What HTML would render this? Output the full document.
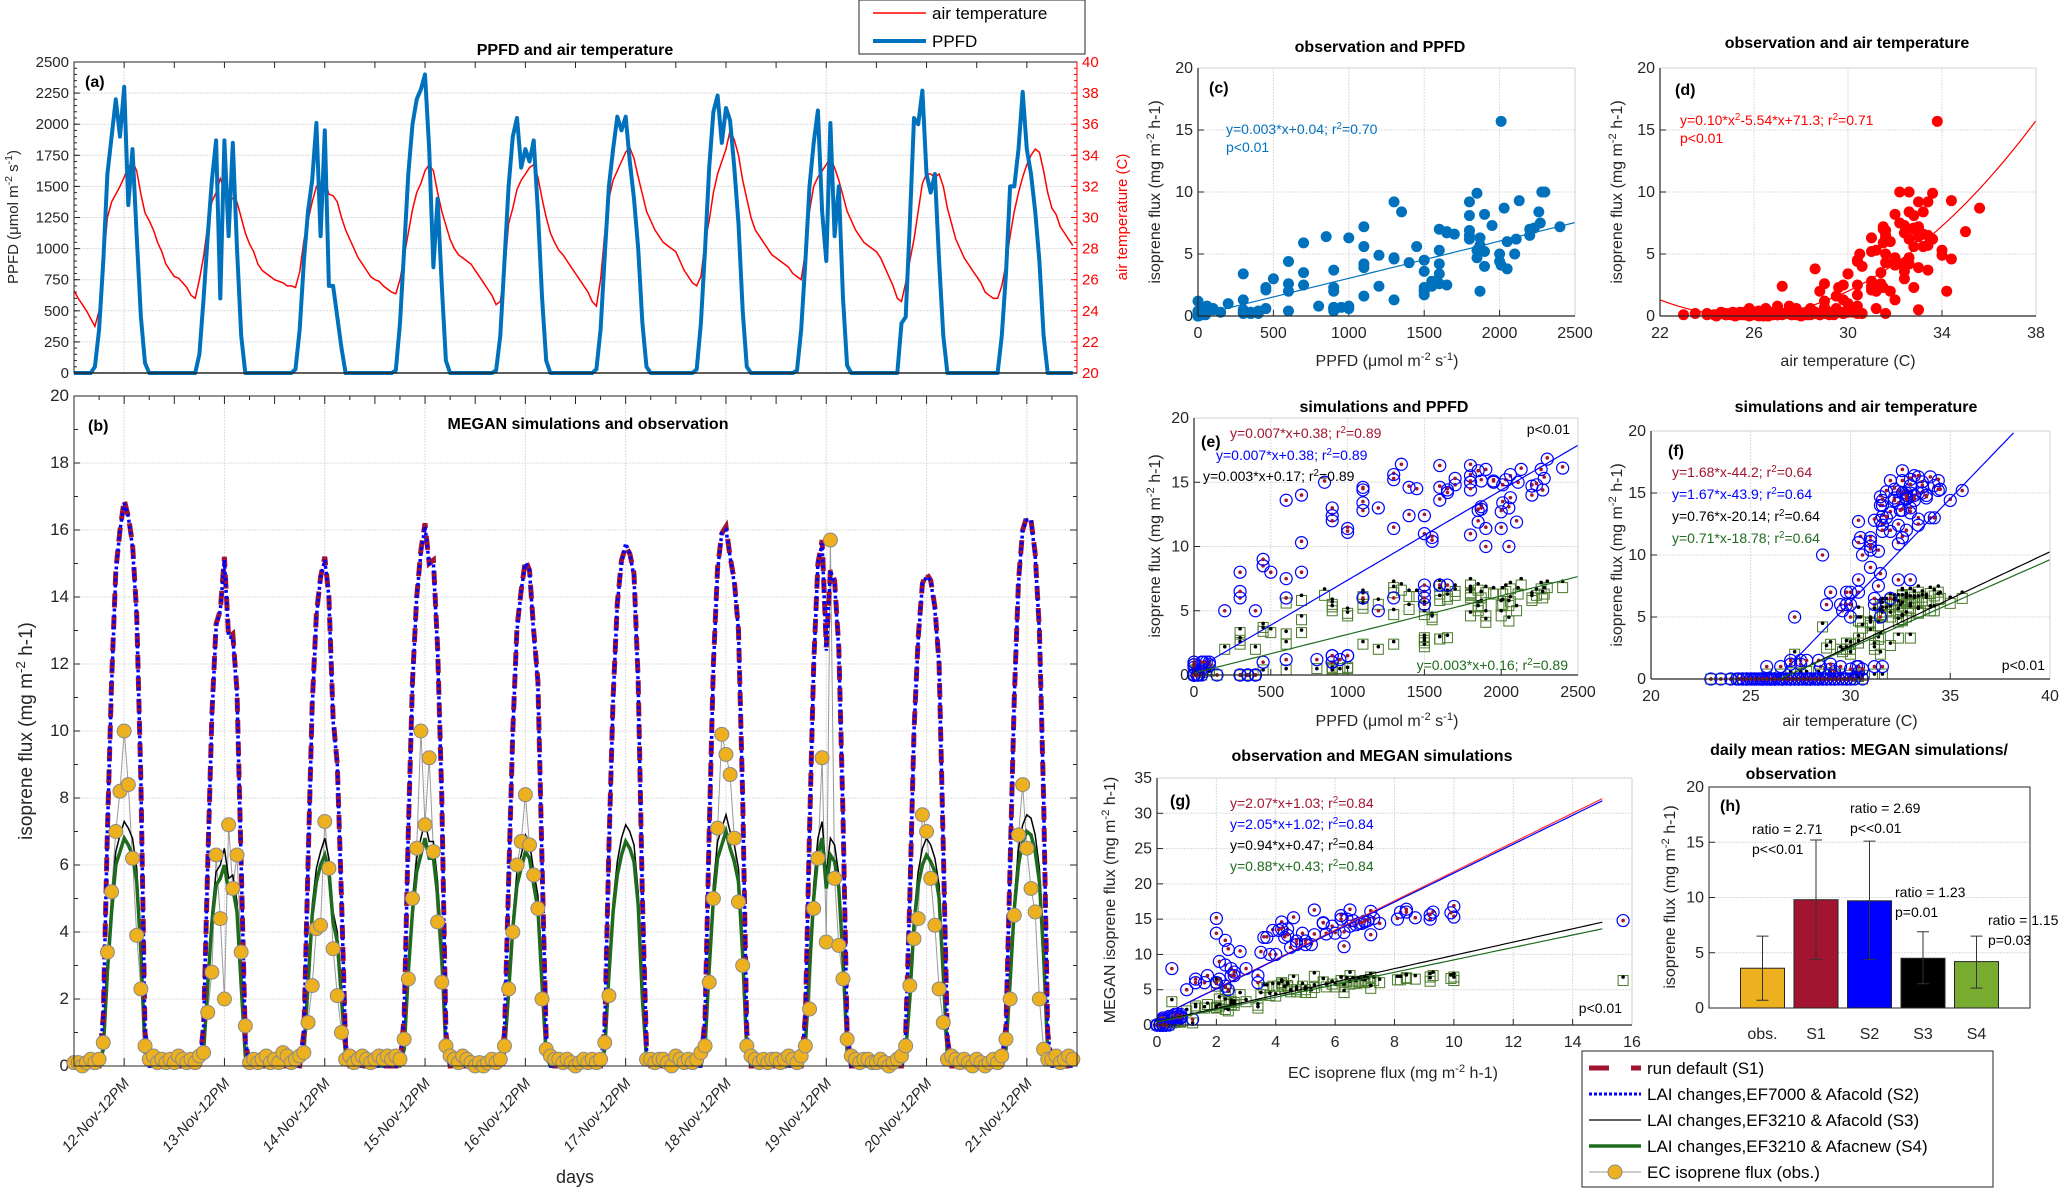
<!DOCTYPE html>
<html><head><meta charset="utf-8">
<style>
html,body{margin:0;padding:0;background:#fff;}
svg{display:block;font-family:"Liberation Sans",sans-serif;}
</style></head>
<body>
<svg id="fig" width="2067" height="1193" viewBox="0 0 2067 1193" xmlns="http://www.w3.org/2000/svg"></svg>
<script>
// ===== Time-series data (hourly, 10 days starting 12-Nov 00:00) =====
const dayLabels = ["12-Nov-12PM","13-Nov-12PM","14-Nov-12PM","15-Nov-12PM","16-Nov-12PM","17-Nov-12PM","18-Nov-12PM","19-Nov-12PM","20-Nov-12PM","21-Nov-12PM"];
const ppfdDays = [
[0,0,0,0,0,50,350,900,1600,1900,2200,1900,2300,1350,1800,1100,450,80,0,0,0,0,0,0],
[0,0,0,0,0,0,150,600,1100,1550,1870,600,1870,1100,1850,1000,300,0,0,0,0,0,0,0],
[0,0,0,0,0,30,350,900,1300,1550,2010,1100,1950,700,700,450,200,0,0,0,0,0,0,0],
[0,0,0,0,0,20,400,1000,1600,2000,2200,2280,2400,1800,850,1400,700,100,0,0,0,0,0,0],
[0,0,0,0,0,20,300,900,1500,1900,2050,1650,1800,1700,1870,1300,600,100,0,0,0,0,0,0],
[0,0,0,0,0,30,350,950,1500,1800,2060,1950,2060,1700,1400,1000,400,50,0,0,0,0,0,0],
[0,0,0,0,0,30,400,1000,1650,2100,2230,1850,2130,2030,1650,1200,500,50,0,0,0,0,0,0],
[0,0,0,0,0,20,350,900,1500,1850,2110,1300,900,2010,1100,1500,600,60,0,0,0,0,0,0],
[0,0,0,0,0,0,400,450,1200,2050,2000,2270,1600,1450,1600,900,300,0,0,0,0,0,0,0],
[0,0,0,0,0,0,300,800,1500,1500,1800,2260,1800,1600,1300,900,300,0,0,0,0,0,0,0]];
const tempDays = [
[25.3,24.8,24.4,24.0,23.5,23.0,24.0,27.0,30.0,31.0,31.5,32.0,32.6,33.2,33.6,33.0,31.5,30.3,29.8,29.2,28.4,27.8,27.0,26.6],
[26.2,26.1,25.8,25.5,25.0,24.8,26.0,27.5,29.5,31.0,31.6,32.5,31.8,31.5,31.2,31.0,30.0,29.0,28.3,27.8,27.0,26.6,26.4,26.2],
[26.0,25.9,25.8,25.6,25.6,25.5,26.5,28.5,29.8,31.0,32.0,32.2,32.4,31.5,31.4,31.0,30.0,29.2,28.6,28.0,27.4,27.0,26.6,26.2],
[26.0,25.9,25.6,25.4,25.2,25.1,26.0,27.5,29.0,30.5,31.6,32.2,33.0,33.4,33.0,31.6,30.4,29.5,28.6,28.0,27.6,27.4,27.2,27.0],
[26.6,26.2,25.8,25.4,25.0,24.4,24.6,26.5,29.6,30.6,31.8,32.4,32.8,33.2,33.4,32.6,31.2,30.0,29.0,28.4,27.9,27.6,27.2,26.8],
[26.4,26.0,25.6,25.2,24.6,24.3,26.0,29.0,31.2,32.4,33.0,33.6,34.2,34.5,33.8,32.6,31.5,30.4,29.8,29.2,28.8,28.4,28.2,28.0],
[27.8,27.2,26.6,26.2,25.8,25.6,26.2,28.4,29.8,31.6,32.8,33.6,34.4,35.6,35.0,34.0,32.4,31.2,30.0,29.2,28.8,28.4,28.0,27.6],
[27.4,27.2,27.0,26.8,26.4,26.2,26.0,27.8,30.4,32.0,32.6,33.0,33.4,33.8,33.2,32.4,31.4,30.4,29.8,29.2,28.8,28.4,28.2,28.0],
[27.8,27.4,26.8,26.2,25.6,24.8,24.6,25.8,27.2,28.6,30.4,32.2,32.8,32.8,32.6,32.8,32.0,30.6,29.6,28.6,28.0,27.4,27.0,26.6],
[26.2,25.8,25.2,25.0,24.8,24.8,25.6,27.0,28.8,30.4,31.6,32.6,33.4,34.0,34.4,34.2,33.0,31.6,30.6,30.2,29.4,29.0,28.6,28.2]];
const s1Days = [
[0,0,0,0,0,0,0,1.5,7,11.5,14.8,16.0,16.9,16.4,15.6,13.5,8.5,1.0,0,0,0,0,0,0],
[0,0,0,0,0,0,0,1.2,6,10.5,13.2,13.6,15.2,12.8,12.9,11.2,6,0.8,0,0,0,0,0,0],
[0,0,0,0,0,0,0,1.0,6,10.8,13.5,14.6,15.2,14.0,10.4,9.0,5,0.6,0,0,0,0,0,0],
[0,0,0,0,0,0,0,1.5,7,11.5,14.0,15.4,16.2,15.0,15.1,12.5,8,1.0,0,0,0,0,0,0],
[0,0,0,0,0,0,0,1.0,5.5,10,13.1,14.2,15.1,14.8,13.0,11.5,6,0.8,0,0,0,0,0,0],
[0,0,0,0,0,0,0,1.2,6.5,11.0,13.8,15.1,15.5,15.3,14.7,11.5,5,0.5,0,0,0,0,0,0],
[0,0,0,0,0,0,0,1.5,7,12,14.9,15.9,16.1,15.2,14.5,13.0,8,1.0,0,0,0,0,0,0],
[0,0,0,0,0,0,0,1.5,7,12,15.0,15.7,12.5,14.8,14.5,12.5,7.5,1.0,0,0,0,0,0,0],
[0,0,0,0,0,0,0,1.0,5,10,12.8,14.4,14.7,14.5,13.7,12.0,6.5,0.8,0,0,0,0,0,0],
[0,0,0,0,0,0,0,1.2,6,11,14.5,16.0,16.4,16.3,15.3,13.0,8,1.0,0,0,0,0,0,0]];
const s2Days = [
[0,0,0,0,0,0,0,1.5,7,11.4,14.7,16.0,16.8,16.4,15.5,13.4,8.5,1.0,0,0,0,0,0,0],
[0,0,0,0,0,0,0,1.2,6,10.4,13.1,13.6,15.1,12.8,12.8,11.1,6,0.8,0,0,0,0,0,0],
[0,0,0,0,0,0,0,1.0,6,10.7,13.4,14.6,15.1,14.0,10.3,9.0,5,0.6,0,0,0,0,0,0],
[0,0,0,0,0,0,0,1.5,7,11.4,14.0,15.3,16.1,15.0,15.0,12.4,8,1.0,0,0,0,0,0,0],
[0,0,0,0,0,0,0,1.0,5.5,10,13.0,14.2,15.0,14.8,12.9,11.4,6,0.8,0,0,0,0,0,0],
[0,0,0,0,0,0,0,1.2,6.5,10.9,13.8,15.0,15.6,15.3,14.6,11.4,5,0.5,0,0,0,0,0,0],
[0,0,0,0,0,0,0,1.5,7,11.9,14.8,15.9,16.0,15.2,14.4,13.0,8,1.0,0,0,0,0,0,0],
[0,0,0,0,0,0,0,1.5,7,11.9,15.0,15.6,12.4,14.8,14.4,12.4,7.5,1.0,0,0,0,0,0,0],
[0,0,0,0,0,0,0,1.0,5,10,12.7,14.4,14.6,14.5,13.6,12.0,6.5,0.8,0,0,0,0,0,0],
[0,0,0,0,0,0,0,1.2,6,11,14.4,16.0,16.3,16.3,15.2,13.0,8,1.0,0,0,0,0,0,0]];
const s3Days = [
[0,0,0,0,0,0,0,0.6,3.0,5.0,6.4,6.9,7.3,7.1,6.8,5.9,3.7,0.4,0,0,0,0,0,0],
[0,0,0,0,0,0,0,0.5,2.6,4.6,5.8,6.0,6.5,5.6,5.7,4.9,2.6,0.3,0,0,0,0,0,0],
[0,0,0,0,0,0,0,0.4,2.6,4.8,5.9,6.4,6.8,6.2,4.6,4.0,2.2,0.3,0,0,0,0,0,0],
[0,0,0,0,0,0,0,0.6,3.0,5.0,6.2,6.8,7.3,6.7,6.7,5.5,3.5,0.4,0,0,0,0,0,0],
[0,0,0,0,0,0,0,0.4,2.4,4.4,5.8,6.3,6.9,6.7,5.8,5.1,2.6,0.3,0,0,0,0,0,0],
[0,0,0,0,0,0,0,0.5,2.9,4.9,6.1,6.8,7.2,7.0,6.6,5.2,2.2,0.2,0,0,0,0,0,0],
[0,0,0,0,0,0,0,0.6,3.1,5.4,6.7,7.1,7.5,7.0,6.6,5.9,3.6,0.4,0,0,0,0,0,0],
[0,0,0,0,0,0,0,0.6,3.1,5.4,6.8,7.3,5.7,6.8,6.6,5.7,3.4,0.4,0,0,0,0,0,0],
[0,0,0,0,0,0,0,0.4,2.2,4.5,5.8,6.5,6.8,6.6,6.2,5.4,2.9,0.3,0,0,0,0,0,0],
[0,0,0,0,0,0,0,0.5,2.7,5.0,6.5,7.2,7.5,7.4,6.9,5.9,3.6,0.4,0,0,0,0,0,0]];
const s4Days = [
[0,0,0,0,0,0,0,0.5,2.8,4.6,6.0,6.4,6.8,6.6,6.3,5.5,3.4,0.4,0,0,0,0,0,0],
[0,0,0,0,0,0,0,0.4,2.4,4.3,5.4,5.6,6.0,5.2,5.3,4.6,2.4,0.3,0,0,0,0,0,0],
[0,0,0,0,0,0,0,0.4,2.4,4.5,5.5,6.0,6.3,5.8,4.3,3.7,2.0,0.3,0,0,0,0,0,0],
[0,0,0,0,0,0,0,0.5,2.8,4.6,5.8,6.3,6.8,6.2,6.2,5.1,3.3,0.4,0,0,0,0,0,0],
[0,0,0,0,0,0,0,0.4,2.2,4.1,5.4,5.9,6.4,6.2,5.4,4.7,2.4,0.3,0,0,0,0,0,0],
[0,0,0,0,0,0,0,0.5,2.7,4.6,5.7,6.3,6.7,6.5,6.1,4.8,2.0,0.2,0,0,0,0,0,0],
[0,0,0,0,0,0,0,0.6,2.9,5.0,6.2,6.6,7.0,6.5,6.1,5.5,3.3,0.4,0,0,0,0,0,0],
[0,0,0,0,0,0,0,0.6,2.9,5.0,6.3,6.8,5.3,6.3,6.1,5.3,3.2,0.4,0,0,0,0,0,0],
[0,0,0,0,0,0,0,0.4,2.0,4.2,5.4,6.0,6.3,6.1,5.8,5.0,2.7,0.3,0,0,0,0,0,0],
[0,0,0,0,0,0,0,0.5,2.5,4.7,6.0,6.7,7.0,6.9,6.4,5.5,3.3,0.4,0,0,0,0,0,0]];
const obsDays = [
[0.1,0.1,0.0,0.1,0.2,0.1,0.2,0.7,3.4,5.2,7.0,8.2,10.0,8.4,6.2,3.9,2.3,0.6,0.2,0.3,0.1,0.2,0.1,0.2],
[0.1,0.3,0.2,0.1,0.2,0.1,0.3,0.4,1.6,2.8,6.3,4.4,2.0,7.2,5.3,6.3,3.4,1.2,0.1,0.2,0.1,0.2,0.3,0.1],
[0.2,0.1,0.4,0.3,0.1,0.2,0.3,0.4,1.3,2.4,4.1,4.2,7.3,5.9,3.5,2.1,1.0,0.2,0.3,0.1,0.2,0.3,0.2,0.1],
[0.2,0.3,0.2,0.3,0.2,0.3,0.2,0.8,2.6,5.0,6.5,10.0,7.2,9.2,6.4,4.3,2.5,0.6,0.3,0.2,0.1,0.3,0.2,0.1],
[0.0,0.1,0.0,0.1,0.2,0.1,0.2,0.6,2.3,4.0,6.0,6.7,8.1,6.6,5.7,4.7,2.0,0.5,0.3,0.2,0.2,0.1,0.2,0.1],
[0.0,0.1,0.2,0.1,0.2,0.1,0.2,0.7,2.1,null,null,null,null,null,null,null,null,0.2,0.2,0.1,0.2,0.2,0.1,0.0],
[0.3,0.2,0.1,0.2,0.1,0.2,0.4,0.6,2.5,5.0,7.1,9.9,9.3,8.7,6.8,4.9,3.0,0.6,0.3,0.2,0.1,0.2,0.1,0.2],
[0.2,0.1,0.2,0.3,0.2,0.1,0.3,0.6,1.7,4.7,6.2,9.2,3.7,15.7,5.6,3.6,2.6,0.8,0.3,0.2,0.1,0.2,0.2,0.1],
[0.1,0.2,0.1,0.0,0.1,0.2,0.3,0.6,2.4,3.8,4.4,7.5,7.0,5.6,4.2,2.3,1.3,0.2,0.3,0.2,0.1,0.2,0.1,0.0],
[0.2,0.1,0.0,0.1,0.2,0.1,0.3,0.8,2.0,4.5,6.9,8.4,6.5,5.3,4.6,2.0,0.5,0.2,0.2,0.3,0.1,0.2,0.3,0.2]];

// ===== Regression / summary data =====
const fitC = [0.003, 0.04];
const fitD = [0.102, 25.57];
const fitE_S1 = [0.007, 0.38];
const fitE_S4 = [0.003, 0.16];
const fitF = [[1.67,-43.9],[0.76,-20.14],[0.71,-18.78]];
const fitG = [[2.07,1.03],[2.05,1.02],[0.94,0.47],[0.88,0.43]];
const barCats = ["obs.","S1","S2","S3","S4"];
const barMeans = [3.6, 9.8, 9.7, 4.5, 4.2];
const barLow = [0.7, 4.4, 4.4, 2.2, 1.8];
const barHigh = [6.5, 15.2, 15.1, 6.9, 6.5];
const barNotes = [null,["ratio = 2.71","p<<0.01"],["ratio = 2.69","p<<0.01"],["ratio = 1.23","p=0.01"],["ratio = 1.15","p=0.03"]];

const ppfd = ppfdDays.flat(), temp = tempDays.flat(), s1 = s1Days.flat(), s2 = s2Days.flat(), s3 = s3Days.flat(), s4 = s4Days.flat(), obs = obsDays.flat();

// ===== helpers =====
const NS = "http://www.w3.org/2000/svg";
const svg = document.getElementById("fig");
function mk(tag, attrs, parent){const e=document.createElementNS(NS,tag);for(const k in attrs)e.setAttribute(k,attrs[k]);(parent||svg).appendChild(e);return e;}
function lin(d0,d1,r0,r1){return v=>r0+(v-d0)/(d1-d0)*(r1-r0);}
function txt(x,y,s,o,parent){const e=mk("text",Object.assign({x:x,y:y,"font-size":15,fill:"#262626"},o||{}),parent);e.textContent=s;return e;}
function richTxt(x,y,parts,o,parent){const e=mk("text",Object.assign({x:x,y:y,"font-size":14,fill:"#262626"},o||{}),parent);
  parts.forEach(p=>{const t=mk("tspan",p.sup?{"baseline-shift":"super","font-size":"70%"}:{},e);t.textContent=p.s;});return e;}

function axesBox(g,L,R,T,B,full){
  const f=mk("rect",{x:L,y:T,width:R-L,height:B-T,fill:"#fff"},g);
  
  
}
function frame(g,L,R,T,B,full){
  const c1 = full?"#262626":"#d0d0d0";
  const top=mk("line",{x1:L,y1:T,x2:R,y2:T,stroke:c1,"stroke-width":1},g);
  
  
  const rt=mk("line",{x1:R,y1:T,x2:R,y2:B,stroke:c1,"stroke-width":1},g);
  
  
  const lf=mk("line",{x1:L,y1:T,x2:L,y2:B,stroke:"#262626","stroke-width":1.2},g);
  
  
  const bt=mk("line",{x1:L,y1:B,x2:R,y2:B,stroke:"#262626","stroke-width":1.2},g);
  
  
}
function yTicks(g,L,R,ys,vals,fmt,opt){
  opt=opt||{};
  vals.forEach(v=>{
    const y=ys(v);
    if(opt.grid!==false){const gl=mk("line",{x1:L,y1:y,x2:R,y2:y,stroke:"#dcdcdc","stroke-width":1,"stroke-dasharray":"2,1"},g);
      
      }
    const tk=mk("line",{x1:L,y1:y,x2:L+6,y2:y,stroke:"#262626"},g);
    
    
    const t=txt(L-5,y+5,fmt(v),{"text-anchor":"end","font-size":opt.fs||15},g);
    
    
  });
}
function xTicks(g,T,B,xs,vals,fmt,opt){
  opt=opt||{};
  vals.forEach(v=>{
    const x=xs(v);
    if(opt.grid!==false){const gl=mk("line",{x1:x,y1:T,x2:x,y2:B,stroke:"#dcdcdc","stroke-width":1,"stroke-dasharray":"2,1"},g);
      
      }
    const tk=mk("line",{x1:x,y1:B,x2:x,y2:B-6,stroke:"#262626"},g);
    
    
    const t=txt(x,B+22,fmt(v),{"text-anchor":"middle","font-size":opt.fs||15},g);
    
    
  });
}
function polyline(g,xs,ys,xv,yv,attrs,name){
  let d="",pen=false;
  for(let i=0;i<yv.length;i++){
    if(yv[i]===null||xv[i]===null){pen=false;continue;}
    d+=(pen?"L":"M")+xs(xv[i]).toFixed(1)+","+ys(yv[i]).toFixed(1);pen=true;
  }
  const p=mk("path",Object.assign({d:d,fill:"none"},attrs),g);
  
  
  return p;
}
function title(x,y,s,g){const t=txt(x,y,s,{"text-anchor":"middle","font-size":16,"font-weight":"bold",fill:"#000"},g);
  
  return t;}
function panelTag(x,y,s,g){const t=txt(x,y,s,{"font-size":16,"font-weight":"bold",fill:"#000"},g);
  
  return t;}
function yLabel(x,y,parts,g,color,fs){const t=richTxt(0,0,parts,{"text-anchor":"middle","font-size":fs||16,fill:color||"#262626",transform:`translate(${x},${y}) rotate(-90)`},g);
  
  return t;}
function xLabel(x,y,parts,g){const t=richTxt(x,y,parts,{"text-anchor":"middle","font-size":16},g);
  
  return t;}
const hours = ppfd.map((_,i)=>i);
const range=(a,b,s)=>{const r=[];for(let v=a;v<=b+1e-9;v+=s)r.push(+v.toFixed(6));return r;};

// ===== Panel (a) =====
(function(){
  const g=mk("g",{});
  
  
  const L=74,R=1077,T=62,B=373;
  const xs=lin(0,240,L,R), ys=lin(0,2500,B,T), yt=lin(20,40,B,T);
  axesBox(g,L,R,T,B);
  yTicks(g,L,R,ys,range(0,2500,250),v=>String(v));
  range(0,2500,50).forEach(v=>{const m=mk("line",{x1:L,y1:ys(v),x2:L+3,y2:ys(v),stroke:"#262626"},g);
    
    });
  range(20,40,2).forEach(v=>{const y=yt(v);
    const tk=mk("line",{x1:R,y1:y,x2:R-6,y2:y,stroke:"#ff0000"},g);
    
    
    const t=txt(R+5,y+5,String(v),{fill:"#ff0000"},g);
    
    });
  range(20,40,0.4).forEach(v=>{const m=mk("line",{x1:R,y1:yt(v),x2:R-3,y2:yt(v),stroke:"#ff0000"},g);
    
    });
  [12,180].forEach(h=>{const gl=mk("line",{x1:xs(h),y1:T,x2:xs(h),y2:B,stroke:"#dcdcdc","stroke-dasharray":"2,1"},g);
    
    });
  range(0,240,12).forEach(h=>{const tk=mk("line",{x1:xs(h),y1:T,x2:xs(h),y2:T+6,stroke:"#262626"},g);
    
    });
  polyline(g,xs,yt,hours,temp,{stroke:"#ff0000","stroke-width":1.5},"air-temperature-line");
  polyline(g,xs,ys,hours,ppfd,{stroke:"#0072BD","stroke-width":4,"stroke-linejoin":"round"},"ppfd-line");
  const zl=mk("line",{x1:L,y1:B,x2:R,y2:B,stroke:"#262626","stroke-width":1.5},g);
  
  
  const fr=mk("rect",{x:L,y:T,width:R-L,height:B-T,fill:"none",stroke:"#262626"},g);
  
  
  const rl=mk("line",{x1:R,y1:T,x2:R,y2:B,stroke:"#ff0000"},g);
  
  
  title(575,55,"PPFD and air temperature",g);
  panelTag(85,87,"(a)",g);
  yLabel(18,217,[{s:"PPFD ("},{s:"μ"},{s:"mol m"},{s:"-2",sup:true},{s:" s"},{s:"-1",sup:true},{s:")"}],g,"#262626",15);
  yLabel(1127,217,[{s:"air temperature (C)"}],g,"#ff0000",15);
  const lg=mk("g",{},g);
  
  
  const lb=mk("rect",{x:859,y:0,width:226,height:54,fill:"#fff",stroke:"#262626"},lg);
  
  
  const l1=mk("line",{x1:873,y1:13,x2:926,y2:13,stroke:"#ff0000","stroke-width":1.5},lg);
  
  
  const t1=txt(932,19,"air temperature",{"font-size":17,fill:"#000"},lg);
  
  
  const l2=mk("line",{x1:873,y1:41,x2:926,y2:41,stroke:"#0072BD","stroke-width":4},lg);
  
  
  const t2=txt(932,47,"PPFD",{"font-size":17,fill:"#000"},lg);
  
  
})();

// ===== Panel (b) =====
(function(){
  const g=mk("g",{});
  
  
  const L=74,R=1077,T=396,B=1066;
  const xs=lin(0,240,L,R), ys=lin(0,20,B,T);
  axesBox(g,L,R,T,B);
  yTicks(g,L,R,ys,range(0,20,2),v=>String(v),{fs:17});
  range(0,20,1).forEach(v=>{
    const m=mk("line",{x1:L,y1:ys(v),x2:L+4,y2:ys(v),stroke:"#262626"},g);
    
    
    const m2=mk("line",{x1:R,y1:ys(v),x2:R-(v%2?4:7),y2:ys(v),stroke:"#262626"},g);
    
    });
  dayLabels.forEach((lab,i)=>{
    const h=12+24*i, x=xs(h);
    const gl=mk("line",{x1:x,y1:T,x2:x,y2:B,stroke:"#dcdcdc","stroke-dasharray":"2,1"},g);
    
    
    const t=txt(0,0,lab,{"text-anchor":"end","font-size":15,"font-style":"italic",transform:`translate(${x+6},${B+18}) rotate(-48)`},g);
    
    
  });
  range(0,240,6).forEach(h=>{const big=(h%12===0);
    const tk=mk("line",{x1:xs(h),y1:B,x2:xs(h),y2:B-(big?8:4),stroke:"#262626"},g);
    
    
    const tk2=mk("line",{x1:xs(h),y1:T,x2:xs(h),y2:T+(big?8:4),stroke:"#262626"},g);
    
    });
  polyline(g,xs,ys,hours,obs,{stroke:"#9a9a9a","stroke-width":1},"obs-line");
  polyline(g,xs,ys,hours,s3,{stroke:"#000","stroke-width":1.5},"s3-line");
  polyline(g,xs,ys,hours,s4,{stroke:"#1e6b1e","stroke-width":3.5},"s4-line");
  polyline(g,xs,ys,hours,s1,{stroke:"#A2142F","stroke-width":5,"stroke-dasharray":"14,8"},"s1-line");
  polyline(g,xs,ys,hours,s2,{stroke:"#0000ff","stroke-width":3.5,"stroke-dasharray":"3,3"},"s2-line");
  obs.forEach((v,i)=>{ if(v===null) return;
    const c=mk("circle",{cx:xs(i),cy:ys(v),r:7,fill:"#EDB120",stroke:"#8a8a8a","stroke-width":1},g);
    
    });
  const fr=mk("rect",{x:L,y:T,width:R-L,height:B-T,fill:"none",stroke:"#262626"},g);
  
  
  title(588,429,"MEGAN simulations and observation",g);
  panelTag(88,431,"(b)",g);
  yLabel(32,731,[{s:"isoprene flux (mg m"},{s:"-2",sup:true},{s:" h-1)"}],g,"#262626",19);
  const dl=txt(575,1183,"days",{"text-anchor":"middle","font-size":18},g);
  
  
})();

// ===== scatter helpers =====
function scatterAxes(name,L,R,T,B,xd,yd,yt,xt){
  const g=mk("g",{});
  
  
  const xs=lin(xd[0],xd[1],L,R), ys=lin(yd[0],yd[1],B,T);
  axesBox(g,L,R,T,B);
  yTicks(g,L,R,ys,yt,v=>String(v),{fs:16});
  xTicks(g,T,B,xs,xt,v=>String(v),{fs:16});
  return {g,xs,ys,L,R,T,B};
}
function dotsFilled(ax,xv,yv,color,name){
  yv.forEach((v,i)=>{ if(v===null||xv[i]===null) return;
    const c=mk("circle",{cx:ax.xs(xv[i]),cy:ax.ys(v),r:5.5,fill:color},ax.g);
    
    });
}
function simMarkers(ax,xv){
  [[s4,"s4"],[s3,"s3"],[s1,"s1"]].forEach(([arr,key])=>{
    arr.forEach((v,i)=>{ if(xv[i]===null) return;
      if(key==="s1"){
        const c=mk("circle",{cx:ax.xs(xv[i]),cy:ax.ys(s2[i]),r:6,fill:"none",stroke:"#0000ff","stroke-width":1.2},ax.g);
        
        
        const d=mk("circle",{cx:ax.xs(xv[i]),cy:ax.ys(v),r:1.8,fill:"#A2142F"},ax.g);
        
        
      } else if(key==="s4"){
        const r=mk("rect",{x:ax.xs(xv[i])-5,y:ax.ys(v)-5,width:10,height:10,fill:"none",stroke:"#4a7a2a","stroke-width":1},ax.g);
        
        
      } else {
        const d=mk("circle",{cx:ax.xs(xv[i]),cy:ax.ys(v),r:1.8,fill:"#000"},ax.g);
        
        
      }
    });
  });
}
function fitLine(ax,x0,x1,f,color,name,clipY){
  const pts=[];for(let k=0;k<=60;k++){const x=x0+(x1-x0)*k/60;let y=f(x);if(clipY!==undefined&&y>clipY)continue;if(y<0)continue;pts.push(ax.xs(x).toFixed(1)+","+ax.ys(y).toFixed(1));}
  const p=mk("polyline",{points:pts.join(" "),fill:"none",stroke:color,"stroke-width":1.2},ax.g);
  
  
}
function eq(ax,x,y,s,color,anchor){
  const parts=s.split("^2");const t=mk("text",{x:x,y:y,"font-size":14,fill:color,"text-anchor":anchor||"start"},ax.g);
  parts.forEach((p,k)=>{const a=mk("tspan",{},t);a.textContent=p;if(k<parts.length-1){const b=mk("tspan",{"baseline-shift":"super","font-size":"70%"},t);b.textContent="2";}});
  
  
}
const ppfdUnit=[{s:"PPFD ("},{s:"μ"},{s:"mol m"},{s:"-2",sup:true},{s:" s"},{s:"-1",sup:true},{s:")"}];
const fluxUnit=[{s:"isoprene flux (mg m"},{s:"-2",sup:true},{s:" h-1)"}];

// ===== Panel (c) =====
(function(){
  const ax=scatterAxes("panel-c-obs-vs-ppfd",1198,1575,68,316,[0,2500],[0,20],range(0,20,5),range(0,2500,500));
  dotsFilled(ax,ppfd,obs,"#0072BD","obs-vs-ppfd-point");
  fitLine(ax,150,2500,x=>fitC[0]*x+fitC[1],"#0072BD","fit-line-c");
  frame(ax.g,ax.L,ax.R,ax.T,ax.B,false);
  title(1380,52,"observation and PPFD",ax.g);
  panelTag(1209,93,"(c)",ax.g);
  eq(ax,1226,134,"y=0.003*x+0.04; r^2=0.70","#0072BD");
  eq(ax,1226,152,"p<0.01","#0072BD");
  yLabel(1160,192,fluxUnit,ax.g);
  xLabel(1387,366,ppfdUnit,ax.g);
})();

// ===== Panel (d) =====
(function(){
  const ax=scatterAxes("panel-d-obs-vs-temperature",1660,2036,68,316,[22,38],[0,20],range(0,20,5),range(22,38,4));
  dotsFilled(ax,temp,obs,"#ff0000","obs-vs-temp-point");
  fitLine(ax,22,38,x=>fitD[0]*(x-fitD[1])*(x-fitD[1]),"#ff0000","fit-curve-d");
  frame(ax.g,ax.L,ax.R,ax.T,ax.B,false);
  title(1847,48,"observation and air temperature",ax.g);
  panelTag(1675,95,"(d)",ax.g);
  eq(ax,1680,125,"y=0.10*x^2-5.54*x+71.3; r^2=0.71","#ff0000");
  eq(ax,1680,143,"p<0.01","#ff0000");
  yLabel(1622,192,fluxUnit,ax.g);
  xLabel(1848,366,[{s:"air temperature (C)"}],ax.g);
})();

// ===== Panel (e) =====
(function(){
  const ax=scatterAxes("panel-e-sims-vs-ppfd",1194,1578,418,675,[0,2500],[0,20],range(0,20,5),range(0,2500,500));
  simMarkers(ax,ppfd);
  fitLine(ax,0,2500,x=>fitE_S1[0]*x+fitE_S1[1],"#0000ff","fit-line-e-s1");
  fitLine(ax,0,2500,x=>fitE_S4[0]*x+fitE_S4[1],"#1e6b1e","fit-line-e-s4");
  frame(ax.g,ax.L,ax.R,ax.T,ax.B,false);
  title(1384,412,"simulations and PPFD",ax.g);
  panelTag(1201,447,"(e)",ax.g);
  eq(ax,1230,438,"y=0.007*x+0.38; r^2=0.89","#A2142F");
  eq(ax,1216,460,"y=0.007*x+0.38; r^2=0.89","#0000ff");
  eq(ax,1203,481,"y=0.003*x+0.17; r^2=0.89","#000");
  eq(ax,1568,670,"y=0.003*x+0.16; r^2=0.89","#1e6b1e","end");
  eq(ax,1570,434,"p<0.01","#000","end");
  yLabel(1160,546,fluxUnit,ax.g);
  xLabel(1387,726,ppfdUnit,ax.g);
})();

// ===== Panel (f) =====
(function(){
  const ax=scatterAxes("panel-f-sims-vs-temperature",1651,2050,431,679,[20,40],[0,20],range(0,20,5),range(20,40,5));
  simMarkers(ax,temp);
  const cols=["#0000ff","#000","#1e6b1e"];
  fitF.forEach((f,k)=>{fitLine(ax,-f[1]/f[0],40,x=>f[0]*x+f[1],cols[k],"fit-line-f",20);});
  frame(ax.g,ax.L,ax.R,ax.T,ax.B,false);
  title(1856,412,"simulations and air temperature",ax.g);
  panelTag(1668,456,"(f)",ax.g);
  eq(ax,1672,477,"y=1.68*x-44.2; r^2=0.64","#A2142F");
  eq(ax,1672,499,"y=1.67*x-43.9; r^2=0.64","#0000ff");
  eq(ax,1672,521,"y=0.76*x-20.14; r^2=0.64","#000");
  eq(ax,1672,543,"y=0.71*x-18.78; r^2=0.64","#1e6b1e");
  eq(ax,2045,670,"p<0.01","#000","end");
  yLabel(1622,555,fluxUnit,ax.g);
  xLabel(1850,726,[{s:"air temperature (C)"}],ax.g);
})();

// ===== Panel (g) =====
(function(){
  const ax=scatterAxes("panel-g-sims-vs-obs",1157,1632,778,1025,[0,16],[0,35],range(0,35,5),range(0,16,2));
  simMarkers(ax,obs);
  const cols=["#ff3030","#0000ff","#000","#1e6b1e"];
  fitG.forEach((f,k)=>{fitLine(ax,0,15,x=>f[0]*x+f[1],cols[k],"fit-line-g");});
  frame(ax.g,ax.L,ax.R,ax.T,ax.B,false);
  title(1372,761,"observation and MEGAN simulations",ax.g);
  panelTag(1170,806,"(g)",ax.g);
  eq(ax,1230,808,"y=2.07*x+1.03; r^2=0.84","#A2142F");
  eq(ax,1230,829,"y=2.05*x+1.02; r^2=0.84","#0000ff");
  eq(ax,1230,850,"y=0.94*x+0.47; r^2=0.84","#000");
  eq(ax,1230,871,"y=0.88*x+0.43; r^2=0.84","#1e6b1e");
  eq(ax,1622,1013,"p<0.01","#000","end");
  yLabel(1115,900,[{s:"MEGAN isoprene flux (mg m"},{s:"-2",sup:true},{s:" h-1)"}],ax.g);
  xLabel(1393,1078,[{s:"EC isoprene flux (mg m"},{s:"-2",sup:true},{s:" h-1)"}],ax.g);
})();

// ===== Panel (h) =====
(function(){
  const g=mk("g",{});
  
  
  const L=1709,R=2030,T=787,B=1008;
  const xs=lin(0,6,L,R), ys=lin(0,20,B,T);
  axesBox(g,L,R,T,B);
  yTicks(g,L,R,ys,range(0,20,5),v=>String(v),{fs:16});
  const colors=["#EDB120","#A2142F","#0000ff","#000000","#77AC30"];
  barCats.forEach((c,i)=>{
    const x=xs(i+1), w=44;
    const b=mk("rect",{x:x-w/2,y:ys(barMeans[i]),width:w,height:B-ys(barMeans[i]),fill:colors[i],stroke:"#262626","stroke-width":1},g);
    
    
    const e=mk("path",{d:`M${x},${ys(barLow[i])}V${ys(barHigh[i])}M${x-6},${ys(barLow[i])}H${x+6}M${x-6},${ys(barHigh[i])}H${x+6}`,stroke:"#333",fill:"none","stroke-width":1},g);
    
    
    const t=txt(x,B+31,c,{"text-anchor":"middle","font-size":16},g);
    
    
  });
  const notePos=[null,[1752,834],[1850,813],[1895,897],[1988,925]];
  barNotes.forEach((n,i)=>{ if(!n) return;
    const a=txt(notePos[i][0],notePos[i][1],n[0],{"font-size":14,fill:"#000"},g);
    
    
    const b=txt(notePos[i][0],notePos[i][1]+20,n[1],{"font-size":14,fill:"#000"},g);
    
    });
  const fr=mk("rect",{x:L,y:T,width:R-L,height:B-T,fill:"none",stroke:"#262626"},g);
  
  
  title(1859,755,"daily mean ratios: MEGAN simulations/",g);
  title(1791,779,"observation",g);
  panelTag(1720,811,"(h)",g);
  yLabel(1675,897,fluxUnit,g);
})();

// ===== Bottom legend =====
(function(){
  const g=mk("g",{});
  
  
  const bx=mk("rect",{x:1582,y:1051,width:411,height:136,fill:"#fff",stroke:"#262626"},g);
  
  
  const labels=["run default (S1)","LAI changes,EF7000 & Afacold (S2)","LAI changes,EF3210 & Afacold (S3)","LAI changes,EF3210 & Afacnew (S4)","EC isoprene flux (obs.)"];
  const styles=[{stroke:"#A2142F","stroke-width":5,"stroke-dasharray":"20,22"},{stroke:"#0000ff","stroke-width":3,"stroke-dasharray":"3,2"},{stroke:"#000","stroke-width":1.3},{stroke:"#1e6b1e","stroke-width":3.5},{stroke:"#9a9a9a","stroke-width":1}];
  labels.forEach((s,i)=>{
    const y=1068+i*26;
    const l=mk("line",Object.assign({x1:1589,y1:y,x2:1641,y2:y},styles[i]),g);
    
    
    if(i===4){const c=mk("circle",{cx:1615,cy:y,r:7,fill:"#EDB120",stroke:"#8a8a8a"},g);
      
      }
    const t=txt(1647,y+6,s,{"font-size":17,fill:"#000"},g);
    
    
  });
})();
</script>
</body></html>
